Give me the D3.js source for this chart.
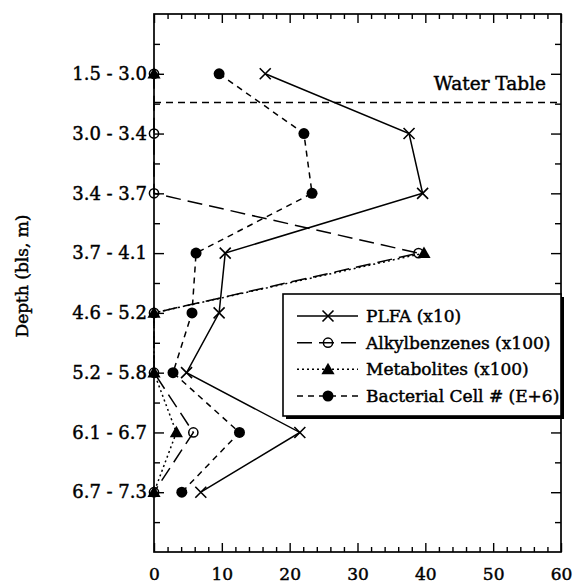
<!DOCTYPE html>
<html lang="en">
<head>
    <meta charset="UTF-8">
    <title>Depth profile</title>
    <style>
        body { margin: 0; background: #fff; }
        svg text { font-family: "DejaVu Serif", "Liberation Serif", serif; fill: #000; stroke: #000; stroke-width: 0.45px; }
    </style>
</head>
<body>
    <div id="chart"></div>
    <script src="https://d3js.org/d3.v7.min.js"></script>
    <script>
        // depth intervals (bls, m) and the four series
        const depths = ["1.5 - 3.0", "3.0 - 3.4", "3.4 - 3.7", "3.7 - 4.1", "4.6 - 5.2", "5.2 - 5.8", "6.1 - 6.7", "6.7 - 7.3"]
        const plfa = [16.4, 37.6, 39.6, 10.5, 9.6, 4.8, 21.5, 6.9]
        const alkylbenzenes = [0, 0, 0, 39.0, 0, 0, 5.8, 0]
        const metabolites = [0, null, null, 39.8, 0, 0, 3.3, 0]
        const bacteria = [9.6, 22.1, 23.3, 6.2, 5.6, 2.8, 12.6, 4.1]
        const xTicks = [0, 10, 20, 30, 40, 50, 60]
        const seriesNames = ["PLFA (x10)", "Alkylbenzenes (x100)", "Metabolites (x100)", "Bacterial Cell # (E+6)"]
        const waterTablePos = 1.48   // in depth-row units, between row 1 and 2

        const width = 573, height = 584
        const plotLeft = 154, plotRight = 561, plotTop = 14, plotBottom = 552

        const svg = d3.select('#chart').append('svg')
            .attr('width', width)
            .attr('height', height)

        const x = d3.scaleLinear().domain([0, 60]).range([plotLeft, plotRight])
        // rows sit at 1..8 on a 0..9 scale
        const yLin = d3.scaleLinear().domain([0, depths.length + 1]).range([plotTop, plotBottom])
        const y = d3.scalePoint().domain(depths).range([plotTop, plotBottom]).padding(1)

        // ---- axes ----
        const styleAxis = size => g => {
            g.select('.domain').remove()
            g.selectAll('line').attr('stroke', '#000').attr('stroke-width', 1.4)
            g.selectAll('text').style('font-size', size + 'px').attr('fill', '#000')
        }
        const minorX = d3.range(0, 61, 2).filter(v => v % 10)

        svg.append('g')
            .attr('transform', `translate(0, ${plotBottom})`)
            .call(d3.axisBottom(x).tickValues(xTicks).tickSize(-9).tickPadding(16))
            .call(styleAxis(17))
        svg.append('g')
            .attr('transform', `translate(0, ${plotBottom})`)
            .call(d3.axisBottom(x).tickValues(minorX).tickSize(-5).tickFormat(''))
            .call(styleAxis(17))
        svg.append('g')
            .attr('transform', `translate(0, ${plotTop})`)
            .call(d3.axisTop(x).tickValues(xTicks).tickSize(-9).tickFormat(''))
            .call(styleAxis(17))
        svg.append('g')
            .attr('transform', `translate(0, ${plotTop})`)
            .call(d3.axisTop(x).tickValues(minorX).tickSize(-5).tickFormat(''))
            .call(styleAxis(17))

        svg.append('g')
            .attr('transform', `translate(${plotLeft}, 0)`)
            .call(d3.axisLeft(y).tickSize(-10).tickPadding(7))
            .call(styleAxis(18))
        svg.append('g')
            .attr('transform', `translate(${plotRight}, 0)`)
            .call(d3.axisRight(y).tickSize(-10).tickFormat(''))
            .call(styleAxis(18))
        const halfRows = d3.range(0.5, depths.length + 1, 1)
        svg.append('g')
            .attr('transform', `translate(${plotLeft}, 0)`)
            .call(d3.axisLeft(yLin).tickValues(halfRows).tickSize(-6).tickFormat(''))
            .call(styleAxis(18))
        svg.append('g')
            .attr('transform', `translate(${plotRight}, 0)`)
            .call(d3.axisRight(yLin).tickValues(halfRows).tickSize(-6).tickFormat(''))
            .call(styleAxis(18))

        // frame
        svg.append('rect')
            .attr('x', plotLeft).attr('y', plotTop)
            .attr('width', plotRight - plotLeft).attr('height', plotBottom - plotTop)
            .attr('fill', 'none').attr('stroke', '#000').attr('stroke-width', 1.7)

        svg.append('text')
            .attr('transform', `translate(22, 276) rotate(-90)`)
            .attr('text-anchor', 'middle')
            .attr('dy', '0.35em')
            .style('font-size', '17px')
            .text('Depth (bls, m)')

        // water table
        svg.append('line')
            .attr('x1', plotLeft).attr('x2', plotRight)
            .attr('y1', yLin(waterTablePos)).attr('y2', yLin(waterTablePos))
            .attr('stroke', '#000').attr('stroke-width', 1.4)
            .attr('stroke-dasharray', '7,5')
        svg.append('text')
            .attr('x', 546).attr('y', 90)
            .attr('text-anchor', 'end')
            .style('font-size', '18.5px')
            .text('Water Table')

        // ---- series ----
        const series = [
            { name: seriesNames[0], values: plfa, dash: null, marker: 'x' },
            { name: seriesNames[1], values: alkylbenzenes, dash: '15,7', marker: 'open' },
            { name: seriesNames[2], values: metabolites, dash: '2,3', marker: 'tri' },
            { name: seriesNames[3], values: bacteria, dash: '6,5', marker: 'dot' }
        ]

        const line = d3.line()
            .defined(d => d.v !== null)
            .x(d => x(d.v))
            .y(d => y(d.depth))

        function drawMarker(g, type) {
            if (type === 'x') {
                g.append('path').attr('d', 'M-5.5,-5.5L5.5,5.5M-5.5,5.5L5.5,-5.5')
                    .attr('stroke', '#000').attr('stroke-width', 1.6).attr('fill', 'none')
            } else if (type === 'open') {
                g.append('circle').attr('r', 4.6)
                    .attr('fill', 'none').attr('stroke', '#000').attr('stroke-width', 1.5)
            } else if (type === 'tri') {
                g.append('path').attr('d', d3.symbol().type(d3.symbolTriangle).size(75)())
                    .attr('transform', 'translate(0,1)')
                    .attr('fill', '#000')
            } else {
                g.append('circle').attr('r', 5.5).attr('fill', '#000')
            }
        }

        series.forEach(s => {
            const pts = s.values.map((v, i) => ({ v: v, depth: depths[i] }))
            svg.append('path')
                .datum(pts)
                .attr('d', line)
                .attr('fill', 'none')
                .attr('stroke', '#000')
                .attr('stroke-width', 1.5)
                .attr('stroke-dasharray', s.dash)
        })
        series.forEach(s => {
            s.values.forEach((v, i) => {
                if (v === null) return
                const g = svg.append('g')
                    .attr('transform', `translate(${x(v)}, ${y(depths[i])})`)
                drawMarker(g, s.marker)
            })
        })

        // ---- legend ----
        const lg = { x: 283, y: 294, w: plotRight - 283, h: 122 }
        svg.append('rect')
            .attr('x', lg.x + 3).attr('y', lg.y + 3)
            .attr('width', lg.w).attr('height', lg.h)
            .attr('fill', '#000')
        svg.append('rect')
            .attr('x', lg.x).attr('y', lg.y)
            .attr('width', lg.w).attr('height', lg.h)
            .attr('fill', '#fff').attr('stroke', '#000').attr('stroke-width', 1.6)

        const legendRow = d3.scaleLinear().domain([0, 3]).range([316, 396])
        series.forEach((s, i) => {
            const ly = legendRow(i)
            svg.append('line')
                .attr('x1', 297).attr('x2', 358)
                .attr('y1', ly).attr('y2', ly)
                .attr('stroke', '#000').attr('stroke-width', 1.5)
                .attr('stroke-dasharray', s.dash)
            const g = svg.append('g').attr('transform', `translate(328, ${ly})`)
            drawMarker(g, s.marker)
            svg.append('text')
                .attr('x', 366).attr('y', ly)
                .attr('dy', '0.35em')
                .style('font-size', '17px')
                .text(s.name)
        })
    </script>
</body>
</html>
